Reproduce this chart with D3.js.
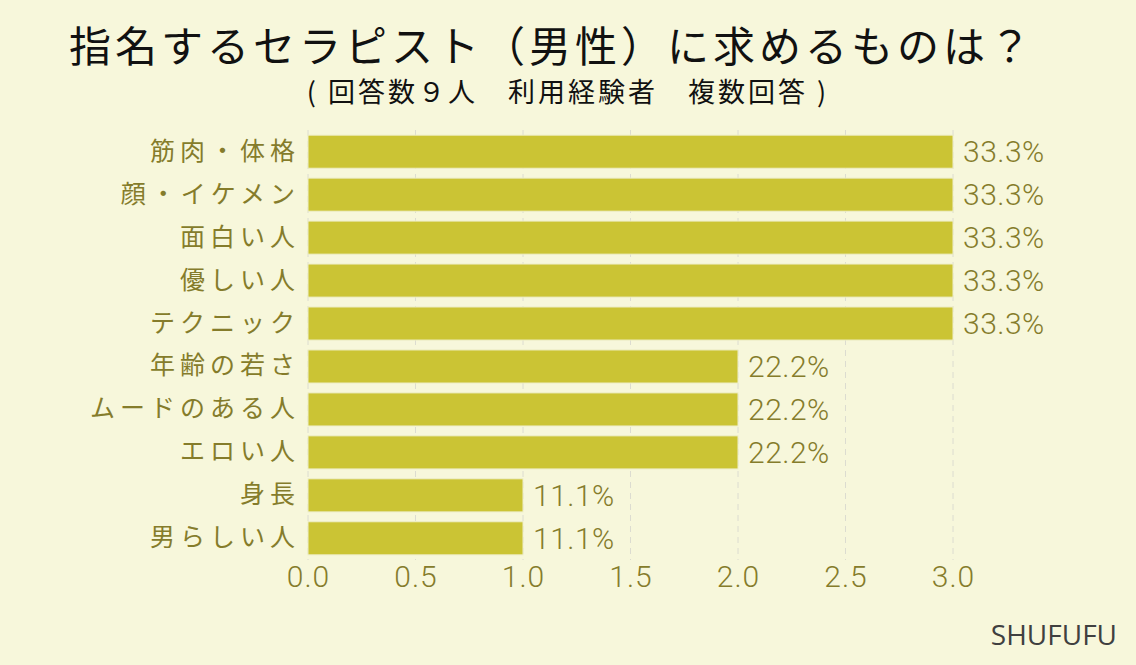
<!DOCTYPE html>
<html>
<head>
<meta charset="utf-8">
<script src="https://cdn.jsdelivr.net/npm/d3@7"></script>
<style>
  body { margin: 0; background: #f7f7db; }
  svg text { font-family: "Noto Sans CJK JP", "Noto Sans", sans-serif; }
</style>
</head>
<body>
<div id="chart"></div>
<script>
const categories = ['筋肉・体格', '顔・イケメン', '面白い人', '優しい人', 'テクニック',
                    '年齢の若さ', 'ムードのある人', 'エロい人', '身長', '男らしい人'];
const counts = [3, 3, 3, 3, 3, 2, 2, 2, 1, 1];
const percentLabels = ['33.3%', '33.3%', '33.3%', '33.3%', '33.3%', '22.2%', '22.2%', '22.2%', '11.1%', '11.1%'];
const xTicks = [0, 0.5, 1.0, 1.5, 2.0, 2.5, 3.0];

const data = categories.map((c, i) => ({ name: c, value: counts[i], label: percentLabels[i] }));

const W = 1136, H = 665;
const margin = { top: 130, right: 183, bottom: 105, left: 308 };
const width = W - margin.left - margin.right,
      height = H - margin.top - margin.bottom;

const svg = d3.select('#chart').append('svg')
    .attr('width', W)
    .attr('height', H);

svg.append('rect').attr('width', W).attr('height', H).attr('fill', '#f7f7db');

const g = svg.append('g')
    .attr('transform', 'translate(' + margin.left + ',' + margin.top + ')');

const x = d3.scaleLinear().domain([0, 3]).range([0, width]);
const y = d3.scaleBand().domain(categories).range([0, height]).paddingInner(0.23).paddingOuter(0.12);

// dashed grid
g.selectAll('.grid')
    .data(xTicks)
    .enter().append('line')
    .attr('x1', d => x(d)).attr('x2', d => x(d))
    .attr('y1', 0).attr('y2', height)
    .attr('stroke', '#dcdcd0')
    .attr('stroke-width', 1)
    .attr('stroke-dasharray', '6,5');

g.selectAll('.bar')
    .data(data)
    .enter().append('rect')
    .attr('x', 0)
    .attr('y', d => y(d.name))
    .attr('width', d => x(d.value))
    .attr('height', y.bandwidth())
    .attr('fill', '#cbc434')
    .attr('stroke', '#eeeec8')
    .attr('stroke-width', 1);

g.selectAll('.vlabel')
    .data(data)
    .enter().append('text')
    .attr('x', d => x(d.value) + 10)
    .attr('y', d => y(d.name) + y.bandwidth() / 2)
    .attr('dy', '0.36em')
    .attr('font-size', 30)
    .attr('fill', '#857c2b')
    .style('font-family', 'Roboto, sans-serif')
    .style('font-weight', 300)
    .style('letter-spacing', '0.5px')
    .text(d => d.label);

// category labels
const yAxis = g.append('g').call(d3.axisLeft(y).tickSize(0).tickPadding(8));
yAxis.select('.domain').remove();
yAxis.selectAll('text')
    .attr('font-size', 25)
    .attr('fill', '#857c2b')
    .style('letter-spacing', '5px');

const xAxis = g.append('g')
    .attr('transform', 'translate(0,' + height + ')')
    .call(d3.axisBottom(x).tickValues(xTicks).tickFormat(d3.format('.1f')).tickSize(0).tickPadding(6));
xAxis.select('.domain').remove();
xAxis.selectAll('text')
    .attr('font-size', 30)
    .attr('fill', '#857c2b')
    .style('font-family', 'Roboto, sans-serif')
    .style('font-weight', 300)
    .style('letter-spacing', '1px');

svg.append('text')
    .attr('x', 552).attr('y', 62)
    .attr('text-anchor', 'middle')
    .attr('font-size', 42)
    .attr('fill', '#111')
    .style('letter-spacing', '4px')
    .text('指名するセラピスト（男性）に求めるものは？');

svg.append('text')
    .attr('x', 568).attr('y', 102)
    .attr('text-anchor', 'middle')
    .attr('font-size', 27)
    .attr('fill', '#111')
    .style('letter-spacing', '3px')
    .text('( 回答数９人　利用経験者　複数回答 )');

svg.append('text')
    .attr('x', 1117).attr('y', 645)
    .attr('text-anchor', 'end')
    .attr('font-size', 28)
    .attr('fill', '#404040')
    .style('font-family', '"Open Sans", sans-serif')
    .text('SHUFUFU');
</script>
</body>
</html>
